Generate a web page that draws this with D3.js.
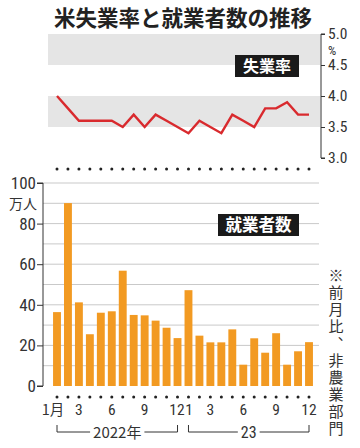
<!DOCTYPE html>
<html><head><meta charset="utf-8">
<script src="https://cdn.jsdelivr.net/npm/d3@7"></script>
<style>
body{margin:0;background:#fff;}
svg{display:block;}
.num{font-family:"Liberation Sans Narrow","Roboto Condensed","Liberation Sans",Arial,sans-serif;font-stretch:condensed;}
.jp{font-family:"Noto Sans CJK JP","Noto Sans",sans-serif;}
</style></head>
<body>
<script>
const months = ["2022-01","2022-02","2022-03","2022-04","2022-05","2022-06","2022-07","2022-08","2022-09","2022-10","2022-11","2022-12",
"2023-01","2023-02","2023-03","2023-04","2023-05","2023-06","2023-07","2023-08","2023-09","2023-10","2023-11","2023-12"];
const unemployment = [4.0,3.8,3.6,3.6,3.6,3.6,3.5,3.7,3.5,3.7,3.6,3.5,3.4,3.6,3.5,3.4,3.7,3.6,3.5,3.8,3.8,3.9,3.7,3.7];
const payrolls = [36.4,90.1,41.2,25.5,36.1,36.8,56.8,35.0,34.8,32.2,28.7,23.6,47.2,24.8,21.5,21.5,27.9,10.5,23.5,16.4,26.0,10.5,17.1,21.6];
const monthTicks = {"2022-01":"1月","2022-03":"3","2022-06":"6","2022-09":"9","2022-12":"12","2023-01":"1","2023-03":"3","2023-06":"6","2023-09":"9","2023-12":"12"};
const rateTicks = [3.0,3.5,4.0,4.5,5.0];
const countTicks = [0,20,40,60,80,100];
const years = [{label:"2022年",from:"2022-01",to:"2022-12"},{label:"23",from:"2023-01",to:"2023-12"}];
const noteText = "※前月比、非農業部門";

const W=360,H=448;
const svg=d3.select("body").append("svg").attr("width",W).attr("height",H);

const x=d3.scalePoint().domain(months).range([57,309]);
const step=x.step();
const yT=d3.scaleLinear().domain([3,5]).range([158,34]);
const yB=d3.scaleLinear().domain([0,100]).range([386,183]);

// Title
svg.append("text").attr("class","jp").attr("x",183).attr("y",26).attr("text-anchor","middle")
  .attr("font-size",21.5).attr("font-weight",700).attr("fill","#222").text("米失業率と就業者数の推移");

// Top bands
[[4.5,5.0],[3.5,4.0]].forEach(b=>{
  svg.append("rect").attr("x",48).attr("width",272).attr("y",yT(b[1])).attr("height",yT(b[0])-yT(b[1])).attr("fill","#e5e5e5");
});
// Right axis
const axR=svg.append("g").attr("transform","translate(321,0)")
  .call(d3.axisRight(yT).tickValues(rateTicks).tickFormat(d3.format(".1f")).tickSize(4).tickPadding(3));
axR.select(".domain").attr("stroke","#333").attr("stroke-width",1).attr("d","M4,"+yT(5)+"H0V"+yT(3)+"H4");
axR.selectAll(".tick line").attr("stroke","#333");
axR.selectAll(".tick text").attr("class","num").attr("font-size",15.5).attr("fill","#333");
svg.append("text").attr("class","num").attr("x",328).attr("y",55).attr("font-size",13).attr("fill","#333").text("%");

// Line
svg.append("path").datum(unemployment).attr("fill","none").attr("stroke","#d92a2e").attr("stroke-width",2.4)
  .attr("stroke-linejoin","miter")
  .attr("d",d3.line().x((d,i)=>x(months[i])).y(d=>yT(d)));

// Label boxes
function label(txt,x0,y0,w,h,fs){
  svg.append("rect").attr("x",x0).attr("y",y0).attr("width",w).attr("height",h).attr("fill","#1a1a1a");
  svg.append("text").attr("class","jp").attr("x",x0+w/2).attr("y",y0+h/2+fs*0.36).attr("text-anchor","middle")
    .attr("font-size",fs).attr("font-weight",700).attr("fill","#fff").text(txt);
}
label("失業率",235,55,64,22,16);

// dot rows
[169,397].forEach(yy=>{
  svg.append("g").selectAll("circle").data(months).join("circle")
    .attr("cx",d=>x(d)).attr("cy",yy).attr("r",1.5).attr("fill","#222");
});

// Bottom gridlines
svg.append("g").selectAll("line").data(d3.range(10,101,10)).join("line")
  .attr("x1",43).attr("x2",319).attr("y1",d=>yB(d)).attr("y2",d=>yB(d)).attr("stroke","#c9c9c9").attr("stroke-width",1);

// Bars
const bw=step*0.72;
svg.append("g").selectAll("rect").data(payrolls).join("rect")
  .attr("x",(d,i)=>x(months[i])-bw/2).attr("width",bw)
  .attr("y",d=>yB(d)).attr("height",d=>yB(0)-yB(d)).attr("fill","#f29a22");

// Left axis
const axL=svg.append("g").attr("transform","translate(43,0)")
  .call(d3.axisLeft(yB).tickValues(countTicks).tickSize(6).tickPadding(1));
axL.select(".domain").attr("stroke","#333").attr("d","M-6,"+yB(100)+"H0V"+yB(0)+"H-6");
axL.selectAll(".tick line").attr("stroke","#333");
axL.selectAll(".tick text").attr("class","num").attr("font-size",17).attr("fill","#333");
svg.append("text").attr("class","jp").attr("x",37).attr("y",209).attr("text-anchor","end").attr("font-size",14).attr("fill","#333").text("万人");

label("就業者数",218,214,81,22,16.5);

// X labels
svg.append("g").selectAll("text").data(months.filter(m=>monthTicks[m])).join("text")
  .attr("class",d=>monthTicks[d]==="1月"?"jp":"num")
  .attr("x",d=>monthTicks[d]==="1月"?x(d)-4:(d==="2022-12"?x(d)-0.5:(d==="2023-01"?x(d)+0.5:x(d))))
  .attr("y",415).attr("text-anchor","middle")
  .attr("font-size",d=>monthTicks[d]==="1月"?14.5:15.5).attr("fill","#333").text(d=>monthTicks[d]);

// Year brackets
years.forEach(yr=>{
  const x1=x(yr.from),x2=x(yr.to),cx=(x1+x2)/2;
  const isJp=/年/.test(yr.label);
  const t=svg.append("text").attr("class",isJp?"jp":"num").attr("x",cx).attr("y",438).attr("text-anchor","middle")
    .attr("font-size",isJp?15:16).attr("fill","#333").text(yr.label);
  const tw=t.node().getComputedTextLength();
  const yy=432;
  svg.append("path").attr("fill","none").attr("stroke","#333").attr("stroke-width",1)
    .attr("d",`M${x1},${yy-7}V${yy}H${cx-tw/2-3}M${cx+tw/2+3},${yy}H${x2}V${yy-7}`);
});

// Note, vertical writing
svg.append("text").attr("class","jp").attr("x",336).attr("y",268)
  .attr("style","writing-mode:vertical-rl;letter-spacing:2px;")
  .attr("font-size",15).attr("fill","#333").text(noteText);
</script>
</body></html>
